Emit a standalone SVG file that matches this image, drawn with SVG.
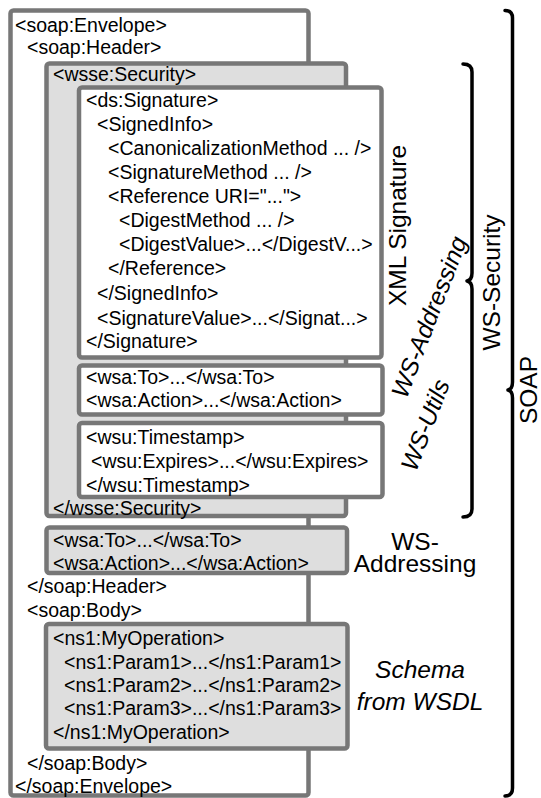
<svg xmlns="http://www.w3.org/2000/svg" width="541" height="798" viewBox="0 0 541 798">
  <style>
    .box { stroke: #777777; stroke-width: 4.5; }
    .white { fill: #ffffff; }
    .grey { fill: #dedede; }
    .xml { font-family: "Liberation Sans", Arial, sans-serif; font-size: 19.5px; fill: #000000; }
    .lbl { font-family: "Liberation Sans", Arial, sans-serif; font-size: 24.5px; fill: #000000; }
    .it { font-style: italic; }
    .brace { fill: none; stroke: #000000; stroke-width: 3.5; stroke-linecap: round; stroke-linejoin: round; }
  </style>
  <rect width="541" height="798" fill="#ffffff"/>

  <!-- SOAP envelope -->
  <g id="envelope">
    <rect class="box white" x="10.5" y="10.5" width="298" height="785" rx="3"/>
    <text class="xml" x="15" y="31.5">&lt;soap:Envelope&gt;</text>
    <text class="xml" x="27" y="54">&lt;soap:Header&gt;</text>
    <text class="xml" x="27" y="593">&lt;/soap:Header&gt;</text>
    <text class="xml" x="27" y="617">&lt;soap:Body&gt;</text>
    <text class="xml" x="27" y="770">&lt;/soap:Body&gt;</text>
    <text class="xml" x="15" y="793">&lt;/soap:Envelope&gt;</text>
  </g>

  <!-- WS-Security header block -->
  <g id="security">
    <rect class="box grey" x="46.5" y="63.5" width="299.5" height="452.5" rx="3"/>
    <text class="xml" x="53" y="80.5">&lt;wsse:Security&gt;</text>
    <text class="xml" x="53" y="515">&lt;/wsse:Security&gt;</text>
  </g>

  <!-- XML signature -->
  <g id="signature">
    <rect class="box white" x="79" y="87.5" width="302.5" height="270" rx="3"/>
    <text class="xml" x="86" y="106.5">&lt;ds:Signature&gt;</text>
    <text class="xml" x="97" y="130.5">&lt;SignedInfo&gt;</text>
    <text class="xml" x="108" y="154.5">&lt;CanonicalizationMethod ... /&gt;</text>
    <text class="xml" x="108" y="178.5">&lt;SignatureMethod ... /&gt;</text>
    <text class="xml" x="108" y="202.5">&lt;Reference URI="..."&gt;</text>
    <text class="xml" x="119" y="226.5">&lt;DigestMethod ... /&gt;</text>
    <text class="xml" x="119" y="250.5">&lt;DigestValue&gt;...&lt;/DigestV...&gt;</text>
    <text class="xml" x="108" y="275">&lt;/Reference&gt;</text>
    <text class="xml" x="97" y="300">&lt;/SignedInfo&gt;</text>
    <text class="xml" x="97" y="324.5">&lt;SignatureValue&gt;...&lt;/Signat...&gt;</text>
    <text class="xml" x="86" y="348">&lt;/Signature&gt;</text>
  </g>

  <!-- Addressing headers inside the security block -->
  <g id="wsa-inner">
    <rect class="box white" x="79" y="365.5" width="303.5" height="49" rx="3"/>
    <text class="xml" x="86" y="383.5">&lt;wsa:To&gt;...&lt;/wsa:To&gt;</text>
    <text class="xml" x="86" y="407">&lt;wsa:Action&gt;...&lt;/wsa:Action&gt;</text>
  </g>

  <!-- Timestamp -->
  <g id="timestamp">
    <rect class="box white" x="79" y="423" width="303.5" height="74" rx="3"/>
    <text class="xml" x="86" y="444">&lt;wsu:Timestamp&gt;</text>
    <text class="xml" x="91" y="467.5">&lt;wsu:Expires&gt;...&lt;/wsu:Expires&gt;</text>
    <text class="xml" x="86" y="491.5">&lt;/wsu:Timestamp&gt;</text>
  </g>

  <!-- Addressing headers outside the security block -->
  <g id="wsa-outer">
    <rect class="box grey" x="46.5" y="527.5" width="300.5" height="45.5" rx="3"/>
    <text class="xml" x="53" y="547">&lt;wsa:To&gt;...&lt;/wsa:To&gt;</text>
    <text class="xml" x="53" y="569.5">&lt;wsa:Action&gt;...&lt;/wsa:Action&gt;</text>
  </g>

  <!-- Body payload -->
  <g id="body">
    <rect class="box grey" x="46" y="624" width="301.5" height="124.5" rx="3"/>
    <text class="xml" x="53" y="645">&lt;ns1:MyOperation&gt;</text>
    <text class="xml" x="64" y="668.5">&lt;ns1:Param1&gt;...&lt;/ns1:Param1&gt;</text>
    <text class="xml" x="64" y="692">&lt;ns1:Param2&gt;...&lt;/ns1:Param2&gt;</text>
    <text class="xml" x="64" y="715">&lt;ns1:Param3&gt;...&lt;/ns1:Param3&gt;</text>
    <text class="xml" x="53" y="739">&lt;/ns1:MyOperation&gt;</text>
  </g>

  <!-- Labels -->
  <g id="labels">
    <text class="lbl" text-anchor="middle" transform="translate(405.5,225.5) rotate(-90)">XML Signature</text>
    <text class="lbl it" text-anchor="middle" transform="translate(437,320) rotate(-69)">WS-Addressing</text>
    <text class="lbl it" text-anchor="middle" transform="translate(433,428) rotate(-69)">WS-Utils</text>
    <text class="lbl" text-anchor="middle" transform="translate(500,282.5) rotate(-90)">WS-Security</text>
    <text class="lbl" text-anchor="middle" transform="translate(536.5,390) rotate(-90)">SOAP</text>
    <text class="lbl" text-anchor="middle"><tspan x="415" y="549.5">WS-</tspan><tspan x="415" y="572">Addressing</tspan></text>
    <text class="lbl it" text-anchor="middle"><tspan x="420" y="678">Schema</tspan><tspan x="420" y="710">from WSDL</tspan></text>
  </g>

  <!-- Braces -->
  <g id="connectors">
    <path class="brace" d="M 463 64 Q 472 64 472 72 L 472 273 Q 472 280 467 281 Q 472 282 472 289 L 472 509 Q 472 517 463 517"/>
    <path class="brace" d="M 505 10.5 Q 512.5 10.5 512.5 18 L 512.5 382 Q 512.5 389 508 390 Q 512.5 391 512.5 398 L 512.5 788 Q 512.5 796 505 796"/>
  </g>
</svg>
